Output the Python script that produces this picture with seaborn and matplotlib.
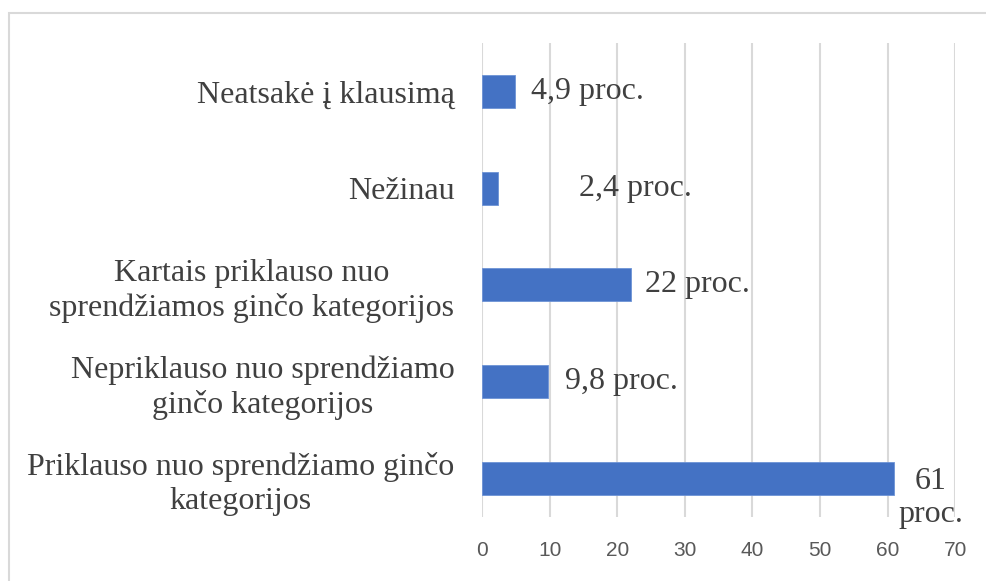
import pandas as pd
import matplotlib.pyplot as plt
import seaborn as sns
from matplotlib.patches import Rectangle

categories = ["Neatsakė į klausimą",
              "Nežinau",
              "Kartais priklauso nuo\nsprendžiamos ginčo kategorijos",
              "Nepriklauso nuo sprendžiamo\nginčo kategorijos",
              "Priklauso nuo sprendžiamo ginčo\nkategorijos"]
values = [4.9, 2.4, 22, 9.8, 61]
labels = ["4,9 proc.", "2,4 proc.", "22 proc.", "9,8 proc.", "61\nproc."]

df = pd.DataFrame({"cat": categories, "val": values})

sns.set_style("white")
fig = plt.figure(figsize=(9.86, 5.81), dpi=100)
ax = fig.add_axes([0.489, 0.110, 0.4797, 0.816])

sns.barplot(x="val", y="cat", data=df, color="#4472C4", width=0.34,
            saturation=1, ax=ax, edgecolor="#6d93d6", linewidth=0.6)

ax.set_xlim(0, 70)
ax.set_ylim(4.4, -0.5)
ax.set_xticks(range(0, 71, 10))
ax.xaxis.grid(True, color="#d9d9d9", linewidth=1.5)
ax.set_axisbelow(True)
for s in ax.spines.values():
    s.set_visible(False)
ax.set_xlabel("")
ax.set_ylabel("")
ax.tick_params(axis="x", length=0, pad=17, labelsize=15, labelcolor="#595959")
ax.tick_params(axis="y", length=0, pad=20)
for t in ax.get_xticklabels():
    t.set_family("Liberation Sans")
for t in ax.get_yticklabels():
    t.set_family("Liberation Serif")
    t.set_fontsize(23)
    t.set_color("#404040")
    t.set_multialignment("center")
    t.set_linespacing(1.22)

# label offsets (points) from bar end, hand-placed as in original
offsets = [(11, 0), (58, 0), (10, 0), (12, 0), (26, -14)]
for i, (v, lab) in enumerate(zip(values, labels)):
    ax.annotate(lab, xy=(v, i), xytext=offsets[i], textcoords="offset points",
                ha="left" if i < 4 else "center", va="center",
                multialignment="center", linespacing=1.2,
                fontsize=23, family="Liberation Serif", color="#404040")

fig.patches.append(Rectangle((9 / 986, -0.01), 1.0, 1 - 13 / 581 + 0.01,
                             transform=fig.transFigure, fill=False,
                             edgecolor="#d9d9d9", linewidth=1.5))

fig.savefig("out.png", dpi=100)
